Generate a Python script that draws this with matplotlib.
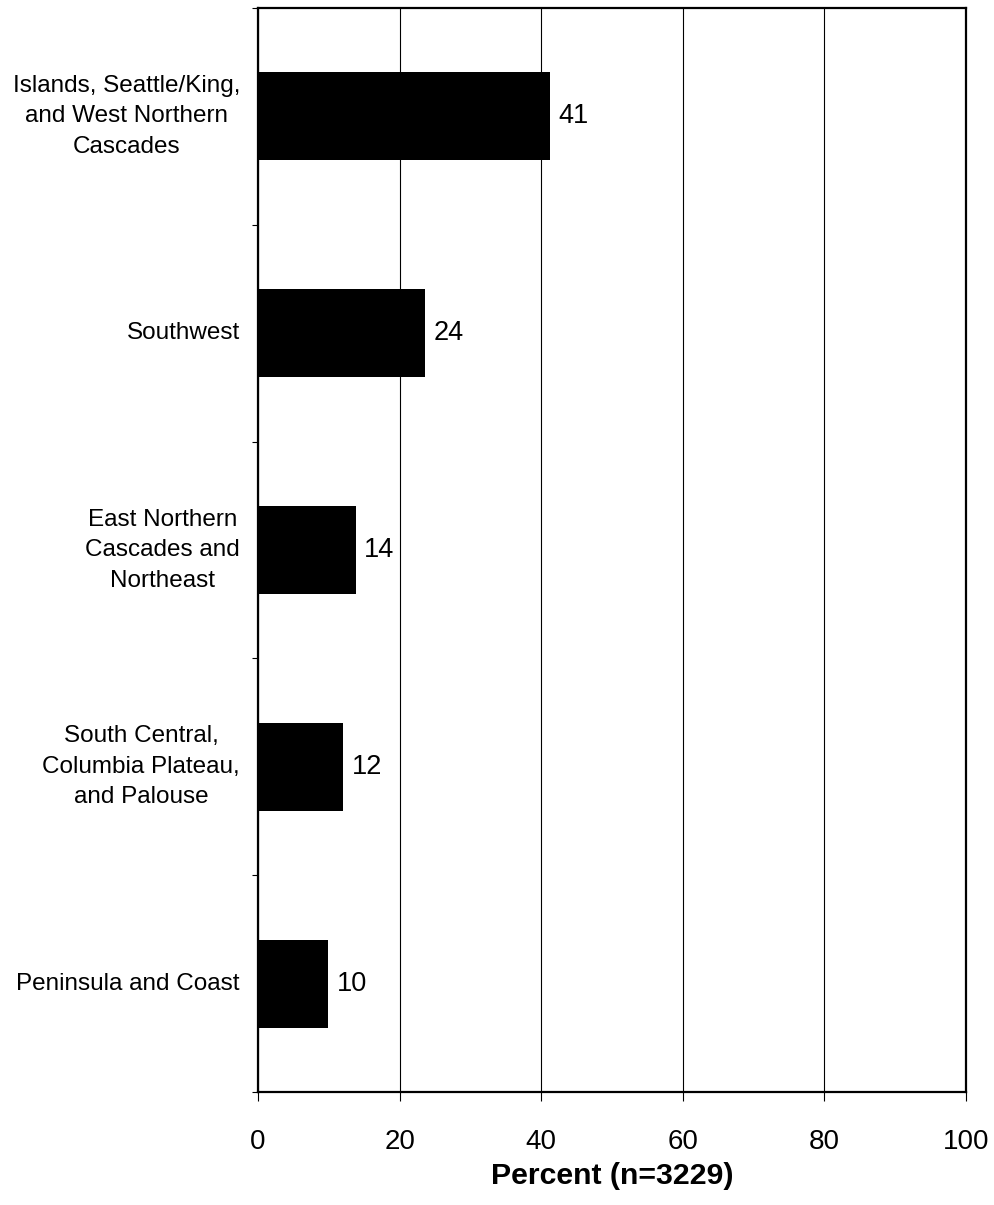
import numpy as np
import matplotlib.pyplot as plt

plt.rcParams['font.family'] = ['Liberation Sans', 'DejaVu Sans']

# --- Dados ---
regioes = [
    'Islands, Seattle/King,\nand West Northern\nCascades',
    'Southwest',
    'East Northern\nCascades and\nNortheast',
    'South Central,\nColumbia Plateau,\nand Palouse',
    'Peninsula and Coast',
]
percentuais = [41.2, 23.6, 13.8, 12.0, 9.9]
rotulos_valor = ['41', '24', '14', '12', '10']
xticks = [0, 20, 40, 60, 80, 100]

fig = plt.figure(figsize=(9.95, 12.05), dpi=100)
ax = fig.add_axes([258 / 995, 1 - 1092 / 1205, 708 / 995, 1084 / 1205])

y = np.arange(len(regioes))
ax.barh(y, percentuais, height=0.405, color='black', zorder=3)

for yi, v, txt in zip(y, percentuais, rotulos_valor):
    ax.text(v + 1.2, yi, txt, va='center', ha='left', fontsize=19.5)

ax.set_xlim(0, 100)
ax.set_ylim(len(regioes) - 0.5, -0.5)

ax.set_xticks(xticks)
ax.set_xticklabels([str(t) for t in xticks], fontsize=20)
ax.tick_params(axis='x', direction='out', length=6.5, width=0.8, pad=20)

# ticks nas fronteiras das categorias, rótulos no centro
ax.set_yticks(np.arange(-0.5, len(regioes), 1.0))
ax.set_yticklabels([])
ax.tick_params(axis='y', which='major', direction='out', length=4.5, width=0.8)
ax.set_yticks(y, minor=True)
ax.set_yticklabels(regioes, minor=True, fontsize=17.5, multialignment='center',
                   linespacing=1.5, va='center')
ax.tick_params(axis='y', which='minor', length=0, pad=13)

ax.grid(axis='x', color='black', linewidth=0.8, zorder=0)
for s in ax.spines.values():
    s.set_linewidth(1.6)
    s.set_color('black')

ax.set_xlabel('Percent (n=3229)', fontsize=21.8, fontweight='bold', labelpad=5)

fig.savefig('out.png', dpi=100)
